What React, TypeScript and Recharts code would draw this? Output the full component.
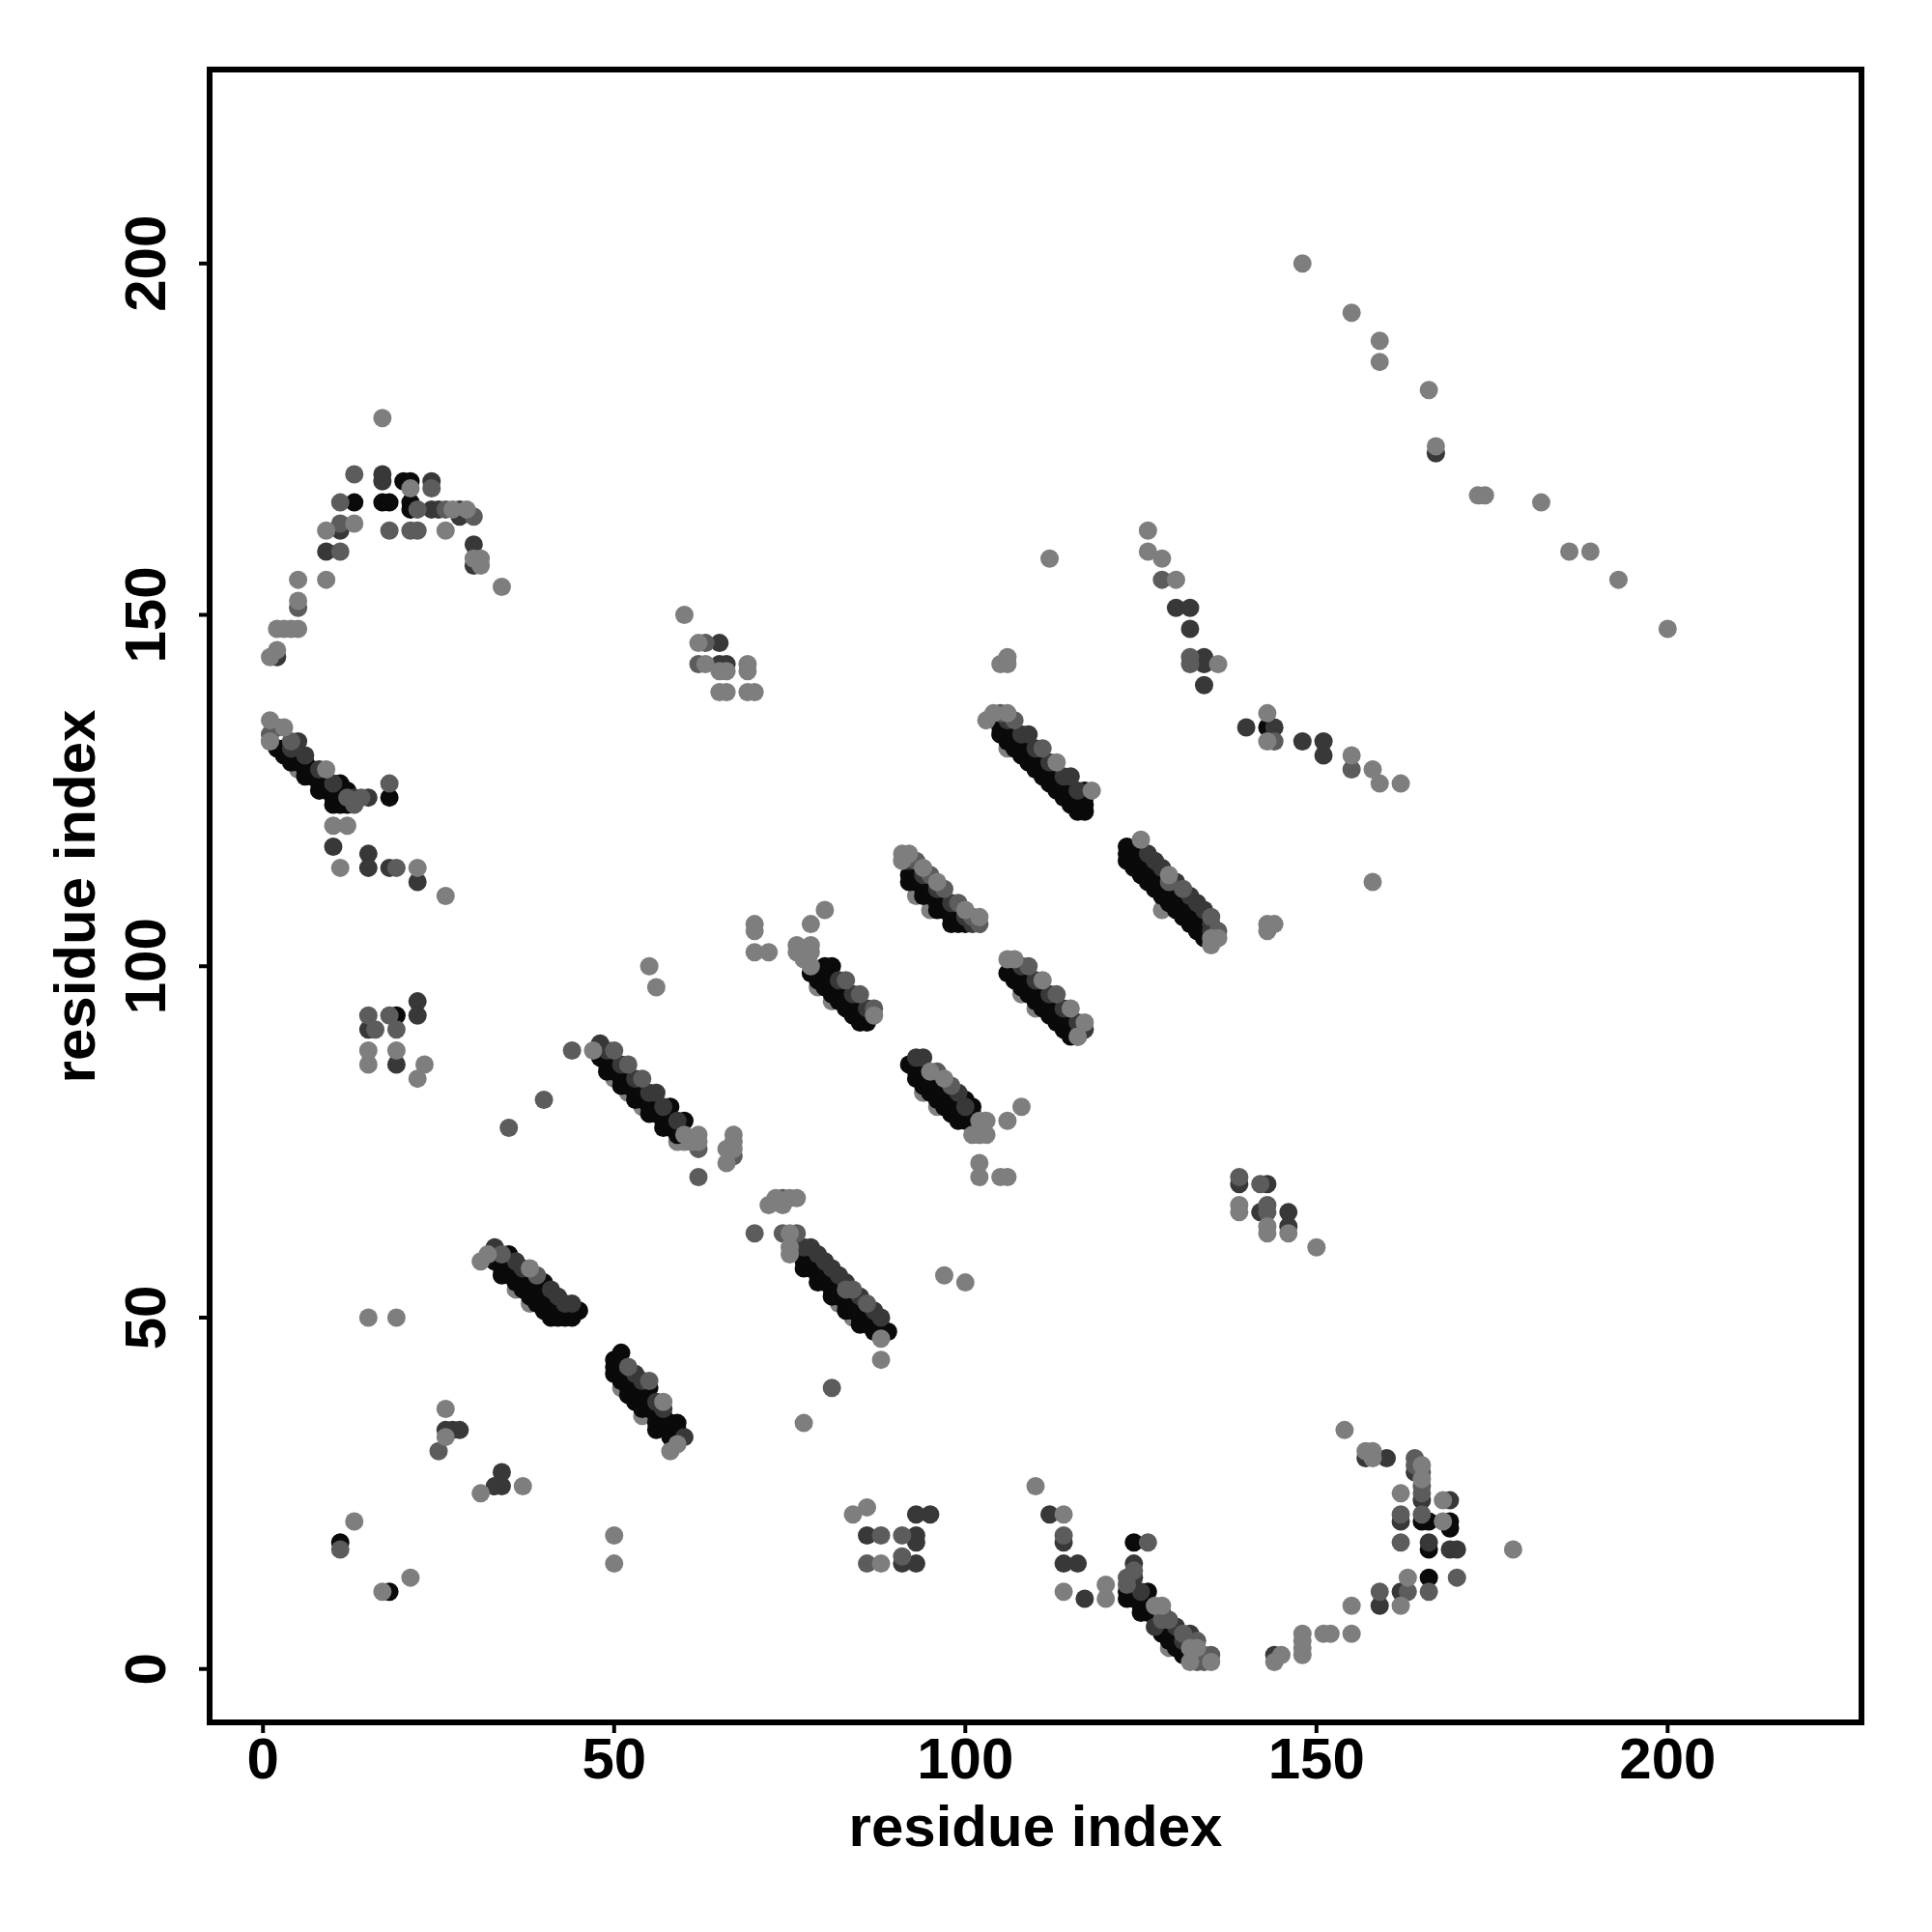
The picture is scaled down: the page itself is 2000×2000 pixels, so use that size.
import React from "react";
import {
  ReferenceArea,
  Scatter,
  ScatterChart,
  XAxis,
  YAxis,
} from "recharts";

type Pair = [number, number];

const ticks = [0, 50, 100, 150, 200];

// contacts as [residue x, residue y], grouped by grey level
const underPoints: Pair[] = [
  [1, 132], [5, 128], [50, 84], [52, 82], [54, 80], [51, 40], [54, 36], [82, 52], [84, 50],
  [106, 131], [128, 108], [59, 75], [60, 75], [127, 6], [129, 3], [36, 54], [38, 52], [93, 110], [95, 108],
  [108, 96], [110, 94], [94, 82], [96, 80], [79, 97], [81, 95],
];

const blackPoints: Pair[] = [
  // top left arc
  [13, 166], [17, 166], [18, 166], [20, 169], [21, 169], [21, 166], [21, 165],
  // 1-12
  [2, 131], [3, 130], [3, 131], [4, 129], [4, 130], [5, 129], [5, 130], [6, 127], [6, 128], [6, 129], [7, 127], [7, 128],
  [8, 125], [8, 126], [8, 127], [9, 125], [9, 126], [10, 123], [10, 124], [10, 125], [11, 123], [11, 124], [11, 126],
  [12, 123], [12, 125], [18, 124],
  // 48-60
  [49, 85], [51, 83], [53, 81], [55, 79], [57, 77],
  [48, 87], [49, 86], [50, 85], [51, 84], [52, 83], [53, 82], [54, 81], [55, 80], [56, 79], [57, 78], [58, 77], [59, 76],
  [48, 88], [50, 86], [51, 85], [52, 84], [53, 83], [54, 82], [55, 81], [56, 80], [57, 79], [58, 78], [59, 77],
  [58, 80], [60, 78],
  // 33-45
  [33, 58], [34, 57], [34, 56], [35, 56], [35, 57], [36, 55], [36, 56], [37, 54], [37, 55], [38, 54], [38, 53], [39, 52],
  [39, 53], [40, 52], [40, 51], [41, 51], [41, 50], [42, 50], [42, 51], [43, 50], [44, 50],
  [35, 58], [36, 57], [37, 56], [38, 55], [39, 54], [40, 53], [41, 52], [35, 59], [40, 55], [45, 51], [44, 51],
  // 50-60
  [50, 42], [50, 43], [50, 44], [51, 45], [51, 41], [51, 42], [52, 39], [52, 40], [52, 41], [53, 38], [53, 39], [53, 40],
  [54, 37], [54, 38], [54, 39], [55, 37], [55, 38], [55, 40], [56, 35], [56, 36], [56, 37], [56, 34], [57, 35], [57, 36],
  [58, 33], [58, 34], [58, 35], [59, 33], [59, 35], [59, 34],
  // 77-89
  [77, 57], [79, 55], [81, 53], [83, 51], [85, 49],
  [77, 58], [78, 57], [79, 56], [80, 55], [81, 54], [82, 53], [83, 52], [84, 51], [85, 50], [86, 49], [87, 48],
  [78, 58], [79, 57], [80, 56], [81, 55], [82, 54], [83, 53], [84, 52], [85, 51], [86, 50], [87, 49], [88, 48], [89, 48],
  // 78-87
  [78, 99], [79, 98], [80, 97], [81, 96], [82, 95], [83, 94], [84, 93], [85, 92], [86, 92],
  [79, 99], [80, 98], [81, 97], [82, 96], [83, 95], [84, 94], [85, 93], [86, 93],
  [80, 99], [81, 98], [82, 97], [83, 96], [84, 95], [85, 94], [81, 100], [80, 100],
  // 91-102
  [92, 112], [94, 110], [96, 108], [98, 106],
  [92, 113], [93, 112], [94, 111], [95, 110], [96, 109], [97, 108], [98, 107], [99, 106],
  [93, 113], [94, 112], [95, 111], [96, 110], [97, 109], [98, 108], [99, 107], [100, 106],
  // 106-117
  [106, 99], [107, 98], [108, 97], [109, 96], [110, 95], [111, 94], [112, 93], [113, 92], [114, 91], [115, 90],
  [107, 99], [108, 98], [109, 97], [110, 96], [111, 95], [112, 94], [113, 93], [114, 92], [115, 91], [116, 90],
  [108, 99], [109, 98], [110, 97], [111, 96], [112, 95], [113, 94], [114, 93], [115, 92], [116, 91],
  // 92-102
  [92, 86], [93, 84], [93, 85], [93, 86], [94, 83], [94, 84], [94, 85], [95, 82], [95, 83], [95, 84], [96, 81], [96, 82], [96, 83],
  [97, 80], [97, 81], [97, 82], [98, 79], [98, 80], [98, 81], [99, 78], [99, 79], [99, 80], [100, 78], [100, 79], [100, 81],
  [101, 78], [101, 79], [101, 80],
  // 105-117
  [106, 132], [108, 130], [110, 128], [112, 126], [114, 124], [116, 122],
  [105, 133], [107, 131], [109, 129], [111, 127], [113, 125], [115, 123],
  [105, 134], [106, 133], [107, 132], [108, 131], [109, 130], [110, 129], [111, 128], [112, 127], [113, 126], [114, 125], [115, 124], [116, 123], [117, 122],
  [105, 135], [106, 134], [107, 133], [108, 132], [109, 131], [110, 130], [111, 129], [112, 128], [113, 127], [114, 126], [115, 125], [116, 124], [117, 123],
  [117, 125], [117, 124],
  // 123-136
  [123, 115], [123, 116], [123, 117], [124, 114], [124, 115], [124, 116], [125, 113], [125, 114], [125, 115], [126, 112],
  [126, 113], [126, 114], [127, 111], [127, 112], [127, 113], [128, 110], [128, 111], [128, 112], [129, 109], [129, 110],
  [129, 111], [130, 108], [130, 109], [130, 110], [131, 107], [131, 108], [131, 109], [132, 106], [132, 107], [132, 108],
  [133, 105], [133, 106], [133, 107], [134, 104], [134, 105], [134, 106],
  // 123-135 bottom
  [124, 18], [123, 11], [123, 10], [126, 11], [124, 10], [124, 11], [125, 8], [125, 9], [126, 8], [126, 9], [127, 8], [128, 6],
  [128, 5], [129, 4], [129, 5], [130, 3], [130, 4], [131, 2], [131, 3], [132, 2],
  // scattered
  [19, 93], [18, 11], [11, 18], [143, 134], [165, 21], [166, 21], [169, 21], [169, 20], [166, 17], [166, 13],
];

const darkPoints: Pair[] = [
  [17, 170], [17, 169], [24, 169], [24, 165], [25, 165], [28, 165], [28, 164], [11, 162], [9, 159], [30, 160], [30, 157], [2, 144],
  [5, 132], [4, 131], [6, 130], [8, 128], [10, 126], [13, 124], [15, 124], [15, 116], [15, 114], [18, 114], [10, 117], [22, 112],
  [48, 89], [49, 88], [51, 86], [53, 84], [55, 82], [56, 82], [57, 80], [59, 78],
  [33, 60], [37, 57], [36, 58], [41, 54], [42, 53], [43, 52], [44, 52],
  [53, 42], [54, 41], [56, 38], [57, 37], [60, 33],
  [77, 60], [78, 60], [79, 59], [80, 58], [81, 57], [82, 56], [83, 55], [85, 53], [87, 51], [88, 50],
  [82, 98], [84, 96], [86, 94],
  [92, 115], [94, 113], [96, 111], [98, 109], [100, 107], [101, 106],
  [108, 100], [110, 98], [112, 96], [114, 94], [116, 92], [117, 91],
  [93, 87], [94, 87], [99, 82], [100, 80],
  [109, 133], [115, 127], [106, 135], [108, 133], [110, 131], [112, 129], [114, 127], [116, 125],
  [127, 115], [133, 109], [126, 116], [128, 114], [130, 112], [132, 110], [134, 108], [135, 105], [135, 106],
  [114, 18], [114, 15], [116, 15], [112, 22], [117, 10], [124, 15], [124, 13], [125, 11], [127, 6], [130, 6], [132, 5], [131, 4], [132, 4], [133, 2], [128, 8],
  [15, 91], [19, 86], [22, 95], [22, 93], [26, 34], [27, 34], [28, 34], [34, 28], [34, 26], [33, 26],
  [65, 146], [65, 143], [66, 143], [86, 19], [91, 15], [93, 22], [95, 22], [93, 19], [93, 18], [93, 15],
  [130, 151], [132, 148], [134, 144], [134, 143], [134, 140], [140, 134], [144, 134], [148, 132], [151, 132], [151, 130],
  [139, 69], [142, 65], [146, 65], [143, 69], [144, 2], [157, 30], [160, 30], [164, 28], [165, 24], [169, 24], [162, 21], [166, 18], [169, 17], [170, 17],
  [162, 11], [159, 9], [167, 173], [132, 151], [146, 63],
];

const midPoints: Pair[] = [
  [13, 170], [11, 166], [22, 165], [26, 165], [11, 163], [18, 162], [21, 162], [22, 162], [30, 164], [11, 159], [5, 151], [24, 168],
  [1, 133], [2, 134], [4, 132], [12, 124], [13, 123], [14, 124], [18, 126], [19, 114],
  [50, 88], [52, 86], [54, 84], [62, 74], [67, 73], [44, 88], [40, 81], [35, 77], [62, 70],
  [34, 59], [39, 56],
  [52, 43], [55, 41],
  [74, 67], [74, 62], [76, 62], [83, 54], [84, 54], [86, 52],
  [83, 98], [85, 96], [87, 94],
  [93, 115], [95, 113], [97, 111], [99, 109], [101, 107], [102, 106],
  [109, 100], [113, 96],
  [96, 85], [98, 83],
  [105, 136], [107, 135], [111, 131],
  [129, 112], [131, 111], [135, 107], [136, 105],
  [114, 19], [126, 18], [123, 13], [123, 12], [124, 14], [128, 7], [129, 7], [131, 5], [133, 4], [134, 2], [135, 2], [133, 1], [134, 1],
  [15, 93], [16, 91], [18, 93], [19, 91], [62, 143], [63, 146], [81, 40], [70, 62], [86, 15],
  [128, 155], [132, 144], [132, 143], [139, 70], [142, 69], [143, 66], [143, 65], [144, 132], [155, 128],
  [164, 30], [164, 29], [165, 28], [165, 26], [165, 25], [162, 22], [165, 22], [162, 18], [159, 11], [163, 11], [166, 11], [170, 13], [11, 17],
  [25, 31], [91, 16], [91, 19], [88, 19],
];

const lightPoints: Pair[] = [
  [17, 178], [27, 165], [29, 165], [13, 163], [9, 162], [26, 162], [21, 168], [30, 158], [31, 158], [31, 157], [5, 155], [9, 155],
  [34, 154], [5, 152], [2, 148], [3, 148], [4, 148], [5, 148], [2, 145], [1, 144],
  [1, 135], [3, 134], [1, 132], [9, 128], [10, 120], [12, 120], [11, 114], [22, 114], [26, 110],
  [47, 88], [60, 76], [61, 75], [62, 76], [62, 75], [67, 76], [67, 75], [67, 74], [66, 74], [66, 72],
  [31, 58], [32, 59], [38, 57], [57, 38], [59, 32], [58, 31],
  [72, 66], [73, 67], [74, 66], [75, 67], [76, 67], [75, 62], [75, 60], [75, 59], [88, 47], [88, 44],
  [76, 103], [78, 103], [76, 102], [78, 102], [77, 101], [78, 100], [87, 93],
  [91, 116], [92, 116], [91, 115], [94, 114], [96, 112], [100, 108], [102, 107],
  [107, 101], [106, 101], [111, 98], [115, 94], [117, 92], [116, 90],
  [95, 85], [97, 84],
  [103, 78], [102, 78], [101, 76], [102, 76], [103, 76], [106, 78], [108, 80], [102, 72], [102, 70], [105, 70], [106, 70],
  [103, 135], [104, 136], [106, 136], [113, 129], [118, 125],
  [125, 118], [129, 113], [135, 103], [136, 104], [135, 104],
  [60, 150], [62, 146], [63, 143], [65, 142], [66, 142], [65, 139], [66, 139], [69, 143], [69, 142], [69, 139], [70, 139],
  [70, 106], [70, 105], [70, 102], [72, 102], [78, 106], [80, 108], [55, 100], [56, 97],
  [15, 88], [15, 86], [19, 88], [23, 86], [22, 84], [97, 56], [100, 55], [15, 50], [19, 50], [77, 35],
  [26, 37], [26, 33], [37, 26], [31, 25], [50, 19], [50, 15], [13, 21], [21, 13], [17, 11],
  [84, 22], [86, 23], [88, 15], [110, 26], [114, 22], [114, 11], [120, 12], [120, 10], [127, 9], [128, 9], [133, 3], [132, 3], [135, 1], [132, 1],
  [126, 162], [126, 159], [128, 158], [130, 155], [136, 143], [143, 136], [143, 132], [155, 130], [158, 128], [159, 126], [162, 126], [158, 112],
  [139, 66], [139, 65], [143, 63], [143, 62], [146, 62], [150, 60], [143, 105], [143, 106], [144, 106], [105, 143], [106, 143], [106, 144], [112, 158],
  [148, 200], [155, 193], [159, 189], [159, 186], [166, 182], [167, 174], [173, 167], [174, 167], [182, 166], [186, 159], [189, 159], [193, 155], [200, 148],
  [154, 34], [157, 31], [158, 31], [158, 30], [165, 29], [165, 27], [162, 25], [168, 24], [168, 21], [163, 13], [155, 9], [162, 9], [178, 17],
  [144, 1], [145, 2], [148, 5], [148, 4], [148, 3], [148, 2], [151, 5], [152, 5], [155, 5],
];

const toRows = (pairs: Pair[]) => pairs.map(([x, y]) => ({ x, y }));

const FONT = '"Liberation Sans", Arial, sans-serif';
const FONT_SIZE = 60;

const Dot = (props: any) => (
  <circle cx={props.cx} cy={props.cy} r={9.5} fill={props.fill} />
);

const XTick = (props: any) => (
  <text
    x={props.x}
    y={1841}
    textAnchor="middle"
    fontFamily={FONT}
    fontWeight={700}
    fontSize={FONT_SIZE}
    fill="#000"
  >
    {props.payload.value}
  </text>
);

const YTick = (props: any) => (
  <text
    transform={`translate(171 ${props.y}) rotate(-90)`}
    textAnchor="middle"
    fontFamily={FONT}
    fontWeight={700}
    fontSize={FONT_SIZE}
    fill="#000"
  >
    {props.payload.value}
  </text>
);

const AxisTitle = ({ x, y, angle }: { x: number; y: number; angle: number }) => (
  <text
    transform={`translate(${x} ${y}) rotate(${angle})`}
    textAnchor="middle"
    fontFamily={FONT}
    fontWeight={700}
    fontSize={FONT_SIZE}
    fill="#000"
  >
    residue index
  </text>
);

const App = () => (
  <div style={{ margin: -8, width: 2000, height: 2000, position: "relative", background: "#fff" }}>
    <ScatterChart
      width={2000}
      height={2000}
      margin={{ top: 72, right: 73, bottom: 0, left: 0 }}
    >
      <XAxis
        type="number"
        dataKey="x"
        domain={[-7.6, 227.6]}
        ticks={ticks}
        height={217}
        axisLine={false}
        tickSize={11}
        tickLine={{ stroke: "#000", strokeWidth: 4 }}
        tick={<XTick />}
        interval={0}
      />
      <YAxis
        type="number"
        dataKey="y"
        domain={[-7.6, 227.6]}
        ticks={ticks}
        width={217}
        axisLine={false}
        tickSize={11}
        tickLine={{ stroke: "#000", strokeWidth: 4 }}
        tick={<YTick />}
        interval={0}
      />
      <Scatter data={toRows(underPoints)} fill="#808080" shape={Dot} isAnimationActive={false} />
      <Scatter data={toRows(blackPoints)} fill="#0a0a0a" shape={Dot} isAnimationActive={false} />
      <Scatter data={toRows(darkPoints)} fill="#383838" shape={Dot} isAnimationActive={false} />
      <Scatter data={toRows(midPoints)} fill="#5c5c5c" shape={Dot} isAnimationActive={false} />
      <Scatter data={toRows(lightPoints)} fill="#7e7e7e" shape={Dot} isAnimationActive={false} />
      <ReferenceArea
        x1={-7.6}
        x2={227.6}
        y1={-7.6}
        y2={227.6}
        fill="none"
        stroke="#000"
        strokeWidth={6}
        ifOverflow="visible"
      />
    </ScatterChart>
    <svg width={2000} height={2000} style={{ position: "absolute", left: 0, top: 0, pointerEvents: "none" }}>
      <AxisTitle x={1072} y={1911} angle={0} />
      <AxisTitle x={98} y={928} angle={-90} />
    </svg>
  </div>
);

export default App;
